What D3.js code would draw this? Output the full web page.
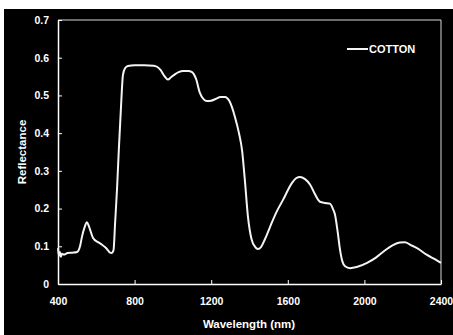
<!DOCTYPE html>
<html>
<head>
<meta charset="utf-8">
<script src="https://cdn.jsdelivr.net/npm/d3@7"></script>
<style>
  body { margin: 0; background: #fff; }
  svg { display: block; }
  text { font-family: "Liberation Sans", Arial, sans-serif; font-weight: bold; fill: #fff; }
</style>
</head>
<body>
<svg id="chart" width="453" height="335"></svg>
<script>
const svg = d3.select('#chart')
const width = 453
const height = 335

// data
const wavelength = [400, 405, 410, 415, 420, 430, 450, 475, 500, 515, 525, 540, 551, 560, 567, 583, 609, 630, 645, 660, 672, 680, 690, 698, 708, 718, 730, 739, 750, 765, 800, 850, 900, 917, 935, 955, 974, 990, 1010, 1030, 1053, 1080, 1100, 1120, 1141, 1160, 1178, 1200, 1220, 1250, 1272, 1295, 1324, 1345, 1361, 1375, 1392, 1410, 1430, 1444, 1460, 1480, 1507, 1540, 1575, 1622, 1645, 1664, 1690, 1716, 1740, 1768, 1795, 1820, 1835, 1846, 1860, 1873, 1885, 1899, 1925, 1960, 2014, 2060, 2097, 2149, 2185, 2212, 2240, 2275, 2327, 2370, 2400]
const cotton = [0.095, 0.075, 0.085, 0.072, 0.08, 0.078, 0.082, 0.083, 0.085, 0.1, 0.125, 0.152, 0.164, 0.155, 0.145, 0.122, 0.111, 0.104, 0.098, 0.09, 0.083, 0.082, 0.09, 0.16, 0.25, 0.36, 0.48, 0.554, 0.572, 0.578, 0.58, 0.58, 0.579, 0.576, 0.568, 0.552, 0.542, 0.548, 0.556, 0.562, 0.565, 0.565, 0.562, 0.545, 0.507, 0.49, 0.485, 0.486, 0.49, 0.496, 0.496, 0.485, 0.443, 0.4, 0.355, 0.28, 0.178, 0.12, 0.098, 0.093, 0.098, 0.118, 0.151, 0.19, 0.223, 0.268, 0.281, 0.284, 0.278, 0.264, 0.24, 0.218, 0.215, 0.213, 0.2, 0.185, 0.14, 0.09, 0.06, 0.047, 0.042, 0.045, 0.056, 0.07, 0.085, 0.103, 0.11, 0.111, 0.104, 0.095, 0.077, 0.065, 0.056]
const xTicks = [400, 800, 1200, 1600, 2000, 2400]
const yTicks = [0, 0.1, 0.2, 0.3, 0.4, 0.5, 0.6, 0.7]
const seriesName = 'COTTON'

const data = wavelength.map((w, i) => ({ w: w, r: cotton[i] }))

const plotLeft = 58, plotRight = 441, plotTop = 20, plotBottom = 284

// black panel with a thin white margin top/left
svg.append('rect')
  .attr('x', 4).attr('y', 9)
  .attr('width', width - 4).attr('height', height - 9)
  .attr('fill', '#000')

const xScale = d3.scaleLinear().domain([400, 2400]).range([plotLeft, plotRight])
const yScale = d3.scaleLinear().domain([0, 0.7]).range([plotBottom, plotTop])

// frame on top and right
svg.append('path')
  .attr('d', `M${plotLeft},${plotTop}H${plotRight}V${plotBottom}`)
  .attr('fill', 'none')
  .attr('stroke', '#d8d8d8')
  .attr('stroke-width', 1)

const xAxis = d3.axisBottom(xScale).tickValues(xTicks).tickSizeInner(-4).tickSizeOuter(0).tickPadding(14)
  .tickFormat(d3.format('d'))
const yAxis = d3.axisLeft(yScale).tickValues(yTicks).tickSizeInner(-4).tickSizeOuter(0).tickPadding(9)
  .tickFormat(d => d === 0 ? '0' : d3.format('.1f')(d))

const gx = svg.append('g').attr('transform', `translate(0,${plotBottom})`).call(xAxis)
const gy = svg.append('g').attr('transform', `translate(${plotLeft},0)`).call(yAxis)

svg.selectAll('.domain').style('stroke', '#fff').style('stroke-width', 1.5)
svg.selectAll('.tick line').style('stroke', '#fff')
svg.selectAll('.tick text')
  .style('fill', '#fff')
  .style('font-size', '10.5px')
  .style('font-family', '"Liberation Sans", Arial, sans-serif')
  .style('font-weight', 'bold')

// the spectrum
const line = d3.line()
  .x(d => xScale(d.w))
  .y(d => yScale(d.r))
  .curve(d3.curveMonotoneX)

svg.append('path')
  .datum(data)
  .attr('d', line)
  .attr('fill', 'none')
  .attr('stroke', '#f4f4f4')
  .attr('stroke-width', 2)

// legend
svg.append('line').attr('x1', 347).attr('x2', 368).attr('y1', 49).attr('y2', 49)
  .attr('stroke', '#f4f4f4').attr('stroke-width', 2)
svg.append('text').attr('x', 369).attr('y', 53).text(seriesName).style('font-size', '11px')

// axis titles
svg.append('text')
  .attr('x', 249).attr('y', 328)
  .attr('text-anchor', 'middle')
  .style('font-size', '11.5px')
  .text('Wavelength (nm)')

svg.append('text')
  .attr('transform', `translate(26,${(plotTop + plotBottom) / 2}) rotate(-90)`)
  .attr('text-anchor', 'middle')
  .style('font-size', '11.5px')
  .text('Reflectance')
</script>
</body>
</html>
